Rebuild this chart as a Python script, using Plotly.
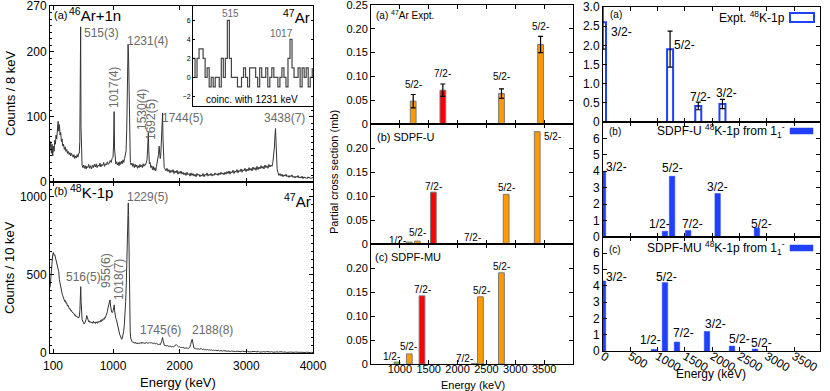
import plotly.graph_objects as go

# ---------------- DATA ----------------
# (a) 46Ar+1n spectrum: (energy keV, counts / 8 keV)
spec_a = [(56, 48), (66, 62), (76, 44), (86, 58), (96, 40), (106, 55), (116, 47), (126, 64), (136, 58),
          (146, 72), (156, 66), (166, 84), (176, 93), (186, 78), (196, 88), (206, 72), (216, 76), (226, 62),
          (236, 66), (246, 55), (258, 58), (270, 50), (282, 54), (294, 47), (306, 50), (318, 44), (330, 47),
          (342, 42), (354, 45), (366, 40), (378, 44), (390, 41), (402, 38), (414, 42), (426, 36), (438, 40),
          (450, 37), (462, 42), (474, 38), (486, 44), (494, 44), (502, 62), (508, 120), (515, 238), (520, 85),
          (526, 32), (536, 26), (548, 22), (560, 26), (572, 21), (584, 25), (596, 20), (608, 24), (622, 22),
          (636, 27), (650, 21), (664, 25), (678, 20), (692, 26), (706, 22), (720, 27), (734, 23), (748, 28),
          (762, 22), (776, 26), (790, 24), (804, 29), (818, 23), (832, 27), (846, 25), (860, 30), (874, 24),
          (888, 28), (902, 26), (916, 31), (930, 27), (944, 29), (958, 33), (972, 30), (986, 36), (1000, 38),
          (1008, 55), (1017, 108), (1023, 52), (1030, 32), (1042, 28), (1054, 31), (1066, 26), (1078, 30),
          (1090, 25), (1102, 31), (1114, 27), (1126, 32), (1138, 28), (1150, 34), (1162, 30), (1174, 36),
          (1186, 42), (1196, 48), (1206, 80), (1216, 150), (1226, 211), (1234, 190), (1242, 110), (1250, 50),
          (1260, 30), (1272, 26), (1284, 29), (1296, 24), (1308, 28), (1320, 22), (1332, 27), (1344, 23),
          (1356, 26), (1368, 21), (1380, 25), (1392, 22), (1404, 27), (1416, 23), (1428, 26), (1440, 22),
          (1452, 28), (1464, 24), (1476, 27), (1488, 26), (1500, 30), (1510, 34), (1520, 52), (1530, 76),
          (1537, 48), (1545, 28), (1556, 30), (1568, 22), (1580, 25), (1592, 19), (1604, 24), (1616, 18),
          (1628, 22), (1640, 17), (1652, 24), (1662, 30), (1672, 34), (1682, 42), (1692, 55), (1700, 42),
          (1708, 36), (1716, 40), (1726, 62), (1736, 95), (1744, 106), (1750, 66), (1758, 32), (1768, 22),
          (1780, 20), (1795, 17), (1810, 21), (1825, 16), (1840, 19), (1855, 14), (1870, 18), (1885, 15),
          (1900, 19), (1915, 13), (1930, 17), (1945, 14), (1960, 18), (1975, 12), (1990, 16), (2005, 13),
          (2020, 17), (2035, 12), (2050, 15), (2065, 11), (2080, 14), (2095, 10), (2110, 15), (2125, 11),
          (2140, 13), (2155, 9), (2170, 14), (2185, 10), (2200, 13), (2215, 9), (2230, 12), (2245, 8),
          (2260, 13), (2275, 10), (2290, 12), (2305, 8), (2320, 11), (2335, 9), (2350, 13), (2365, 8),
          (2380, 12), (2395, 10), (2410, 14), (2425, 9), (2440, 12), (2455, 10), (2470, 13), (2485, 9),
          (2500, 12), (2515, 10), (2530, 14), (2545, 11), (2560, 13), (2575, 10), (2590, 14), (2605, 11),
          (2620, 15), (2635, 12), (2650, 14), (2665, 11), (2680, 15), (2695, 12), (2710, 16), (2725, 13),
          (2740, 17), (2755, 12), (2770, 16), (2785, 14), (2800, 18), (2815, 13), (2830, 17), (2845, 15),
          (2860, 19), (2875, 14), (2890, 18), (2905, 16), (2920, 20), (2935, 15), (2950, 19), (2965, 17),
          (2980, 21), (2995, 16), (3010, 20), (3025, 17), (3040, 22), (3055, 18), (3070, 21), (3085, 17),
          (3100, 23), (3115, 19), (3130, 22), (3145, 18), (3160, 24), (3175, 19), (3190, 23), (3205, 20),
          (3220, 25), (3235, 21), (3250, 24), (3265, 20), (3280, 26), (3295, 22), (3310, 25), (3325, 21),
          (3340, 27), (3355, 23), (3370, 26), (3385, 24), (3398, 30), (3410, 38), (3420, 52), (3430, 72),
          (3438, 82), (3446, 60), (3454, 35), (3462, 20), (3475, 14), (3490, 10), (3505, 13), (3520, 9),
          (3535, 12), (3550, 8), (3565, 11), (3580, 9), (3595, 12), (3610, 8), (3625, 10), (3640, 7),
          (3655, 10), (3670, 8), (3685, 11), (3700, 7), (3715, 9), (3730, 6), (3745, 9), (3760, 7),
          (3775, 10), (3790, 6), (3805, 8), (3820, 6), (3835, 9), (3850, 5), (3865, 8), (3880, 6),
          (3895, 7), (3910, 5), (3925, 8), (3940, 6), (3955, 7), (3970, 5), (3985, 7), (4000, 6)]

# (b) 48K-1p spectrum: (energy keV, counts / 10 keV)
spec_b = [(56, 420), (66, 470), (76, 560), (86, 610), (96, 630), (106, 644), (116, 625), (126, 630),
          (136, 610), (146, 600), (156, 585), (166, 560), (176, 540), (186, 520), (196, 470), (206, 440),
          (216, 420), (226, 405), (236, 380), (246, 368), (256, 350), (266, 352), (276, 330), (286, 336),
          (296, 318), (306, 322), (316, 300), (326, 305), (336, 290), (346, 282), (356, 285), (366, 270),
          (376, 272), (386, 262), (396, 258), (406, 250), (416, 252), (426, 240), (436, 244), (446, 232),
          (456, 236), (466, 228), (476, 232), (486, 225), (496, 235), (504, 280), (510, 360), (516, 425),
          (522, 330), (528, 240), (536, 215), (546, 205), (556, 195), (566, 186), (576, 190), (586, 200),
          (596, 215), (606, 240), (616, 225), (626, 208), (636, 200), (646, 206), (656, 195), (666, 200),
          (676, 192), (686, 198), (696, 190), (706, 204), (716, 193), (726, 198), (736, 188), (746, 200),
          (756, 194), (766, 190), (776, 202), (786, 196), (796, 205), (806, 198), (816, 210), (826, 202),
          (836, 215), (846, 208), (856, 220), (866, 215), (876, 228), (886, 225), (896, 240), (906, 250),
          (916, 265), (926, 290), (936, 315), (946, 335), (955, 340), (964, 300), (972, 270), (980, 262),
          (988, 258), (996, 262), (1004, 275), (1010, 295), (1018, 308), (1025, 270), (1032, 240),
          (1040, 225), (1050, 215), (1060, 200), (1070, 180), (1080, 160), (1090, 140), (1100, 120),
          (1110, 105), (1120, 92), (1130, 88), (1140, 96), (1150, 112), (1160, 140), (1170, 180),
          (1180, 240), (1190, 330), (1200, 450), (1210, 620), (1218, 800), (1224, 920), (1229, 961),
          (1234, 880), (1240, 620), (1246, 380), (1252, 220), (1258, 140), (1266, 95), (1276, 78),
          (1288, 72), (1300, 66), (1312, 70), (1324, 62), (1336, 68), (1348, 60), (1360, 66), (1372, 58),
          (1384, 64), (1396, 60), (1408, 67), (1420, 61), (1432, 70), (1444, 63), (1456, 66), (1468, 60),
          (1480, 67), (1492, 62), (1504, 68), (1516, 63), (1528, 66), (1540, 62), (1552, 68), (1564, 64),
          (1576, 66), (1588, 62), (1600, 65), (1612, 60), (1624, 64), (1636, 58), (1648, 62), (1660, 56),
          (1672, 58), (1684, 54), (1696, 56), (1708, 52), (1720, 60), (1730, 75), (1738, 92), (1745, 99),
          (1752, 80), (1760, 58), (1770, 50), (1782, 46), (1794, 50), (1806, 44), (1818, 48), (1830, 42),
          (1842, 46), (1854, 40), (1866, 44), (1878, 40), (1890, 42), (1902, 38), (1914, 42), (1926, 45),
          (1938, 50), (1950, 54), (1962, 48), (1974, 42), (1986, 38), (1998, 40), (2010, 35), (2022, 38),
          (2034, 33), (2046, 36), (2058, 32), (2070, 34), (2082, 30), (2094, 33), (2106, 29), (2118, 31),
          (2130, 28), (2142, 32), (2154, 38), (2164, 55), (2172, 72), (2180, 84), (2188, 88), (2196, 70),
          (2204, 45), (2214, 32), (2226, 28), (2238, 30), (2250, 26), (2262, 28), (2274, 24), (2286, 27),
          (2298, 23), (2310, 26), (2322, 30), (2334, 24), (2346, 22), (2360, 25), (2375, 20), (2390, 23),
          (2405, 19), (2420, 22), (2435, 18), (2450, 21), (2465, 17), (2480, 20), (2495, 16), (2510, 19),
          (2525, 15), (2540, 18), (2560, 14), (2580, 17), (2600, 13), (2620, 16), (2640, 12), (2660, 15),
          (2680, 12), (2700, 14), (2720, 11), (2740, 13), (2760, 10), (2780, 13), (2800, 10), (2820, 12),
          (2840, 9), (2860, 12), (2880, 9), (2900, 11), (2920, 8), (2940, 11), (2960, 8), (2980, 10),
          (3000, 8), (3020, 11), (3040, 7), (3060, 10), (3080, 8), (3100, 10), (3120, 7), (3140, 9),
          (3160, 7), (3180, 10), (3200, 6), (3220, 9), (3240, 7), (3260, 9), (3280, 6), (3300, 9),
          (3320, 6), (3340, 8), (3360, 6), (3380, 9), (3400, 5), (3420, 8), (3440, 6), (3460, 8),
          (3480, 5), (3500, 8), (3520, 5), (3540, 7), (3560, 5), (3580, 7), (3600, 4), (3620, 7),
          (3640, 5), (3660, 6), (3680, 4), (3700, 6), (3720, 4), (3740, 6), (3760, 4), (3780, 6),
          (3800, 4), (3820, 5), (3840, 3), (3860, 5), (3880, 3), (3900, 5), (3920, 3), (3940, 5),
          (3960, 3), (3980, 4), (4000, 3)]

# inset: coincidence with 1231 keV
inset_energy = [240, 256, 272, 288, 304, 320, 336, 352, 368, 384, 400, 416, 432, 448, 464, 480, 496, 512,
                528, 544, 560, 576, 592, 608, 624, 640, 656, 672, 688, 704, 720, 736, 752, 768, 784, 800,
                816, 832, 848, 864, 880, 896, 912, 928, 944, 960, 976, 992, 1008, 1024, 1040, 1056, 1072,
                1088, 1104, 1120, 1136, 1152, 1168, 1184]
inset_counts = [2, 0, 2, 3, 3, 2, 0, 1, -1, 0, -1, 0, 0, -1, 2, 0, 2, 6, 2, 0, 0, 0, -1, -1, 0, 1, 0, -1,
                1, 1, 1, 0, -1, 1, 0, 0, 1, -1, 0, 1, 0, 0, -1, 0, 1, 0, -1, 2, 4, 1, 0, 0, 1, -1, 1, 0,
                1, -1, 0, 1]

# middle: partial cross sections (mb)
mid_expt_E = [1231, 1745, 2761, 3438]
mid_expt_sigma = [0.048, 0.071, 0.064, 0.167]
mid_expt_err = [0.014, 0.013, 0.010, 0.017]
mid_expt_label = ['5/2-', '7/2-', '5/2-', '5/2-']
mid_expt_kind = ['5/2', '7/2', '5/2', '5/2']

mid_u_E = [1163, 1302, 1580, 2222, 2842, 3380]
mid_u_sigma = [0.004, 0.006, 0.108, 0.001, 0.1035, 0.234]
mid_u_label = ['1/2-', '5/2-', '7/2-', '7/2-', '5/2-', '5/2-']
mid_u_kind = ['1/2', '5/2', '7/2', '7/2', '5/2', '5/2']

mid_mu_E = [950, 1163, 1384, 2290, 2396, 2760]
mid_mu_sigma = [0.004, 0.021, 0.142, 0.001, 0.140, 0.190]
mid_mu_label = ['1/2-', '5/2-', '7/2-', '7/2-', '5/2-', '5/2-']
mid_mu_kind = ['1/2', '5/2', '7/2', '7/2', '5/2', '5/2']

# right: spectroscopic strengths 48K-1p
r_expt_E = [0, 1229, 1745, 2188]
r_expt_val = [2.6, 1.9, 0.42, 0.47]
r_expt_err = [0.7, 0.47, 0.1, 0.12]
r_expt_label = ['3/2-', '5/2-', '7/2-', '3/2-']

r_u_E = [0, 1135, 1265, 1560, 2100, 2820]
r_u_val = [4.0, 0.35, 3.7, 0.4, 2.65, 0.55]
r_u_label = ['3/2-', '1/2-', '5/2-', '7/2-', '3/2-', '5/2-']

r_mu_E = [0, 934, 1135, 1355, 1905, 2363, 2784]
r_mu_val = [4.3, 0.1, 4.2, 0.55, 1.2, 0.3, 0.12]
r_mu_label = ['3/2-', '1/2-', '5/2-', '7/2-', '3/2-', '5/2-', '5/2-']

# ---------------- STYLE ----------------
W, H = 830, 391
FONT = 'Liberation Sans, Arial, sans-serif'
KIND_COLOR = {'1/2': '#66dd00', '5/2': '#ff9900', '7/2': '#ff0000'}
BLUE = '#2040ff'
GRAY_TXT = '#6a6a6a'

# label offsets (pixels: dx right, dy up from bar top)
mid_expt_dx = [0, 0, 0, 0];            mid_expt_dy = [10, 11, 12, 10]
mid_u_dx = [-12, 0, 0, 2, 0, 15];      mid_u_dy = [2, 9, 6, 6, 7, -5]
mid_mu_dx = [-5, -1, 0, -10, 1, 0];    mid_mu_dy = [6, 7, 6, 5, 6, 6]
r_expt_dx = [18, 14, 2, 4];            r_expt_dy = [-10, 4, 9, 11]
r_u_dx = [13, -5, 0, 4, 0, 5];         r_u_dy = [4, 7, 8, 6, 6, 4]
r_mu_dx = [13, -3, 2, 7, 8, 7, 7];     r_mu_dy = [4, 9, 6, 9, 7, 7, 6]

# axes boxes in pixels (left, right, top, bottom)
boxes = {
    1: (50, 313, 6, 182),
    2: (50, 313, 182, 353),
    3: (193, 313, 6, 106),
    4: (371, 573, 5, 124),
    5: (371, 573, 124, 244),
    6: (371, 573, 244, 364),
    7: (603, 820, 7, 122),
    8: (603, 820, 122, 237),
    9: (603, 820, 237, 351),
}


def px(x):
    return x / W


def py(y):
    return 1 - y / H


def ref(i):
    return ('x' if i == 1 else f'x{i}'), ('y' if i == 1 else f'y{i}')


fig = go.Figure()
annotations = []
shapes = []

# ---- spectra ----
xa, ya = ref(1)
fig.add_trace(go.Scatter(x=[p[0] for p in spec_a], y=[p[1] for p in spec_a], mode='lines',
                         line=dict(color='#333333', width=1), xaxis=xa, yaxis=ya, hoverinfo='skip'))
xb, yb = ref(2)
fig.add_trace(go.Scatter(x=[p[0] for p in spec_b], y=[p[1] for p in spec_b], mode='lines',
                         line=dict(color='#333333', width=1), xaxis=xb, yaxis=yb, hoverinfo='skip'))
xi, yi = ref(3)
fig.add_trace(go.Scatter(x=inset_energy, y=inset_counts, mode='lines', line_shape='hv',
                         line=dict(color='#444444', width=1.2), xaxis=xi, yaxis=yi, hoverinfo='skip'))


def add_bars(i, E, vals, colors, width, line_color, line_w, err=None):
    xr, yr = ref(i)
    kw = {}
    if err is not None:
        kw['error_y'] = dict(type='data', array=err, color='black', thickness=1.2, width=2.5)
    fig.add_trace(go.Bar(x=E, y=vals, width=width, marker=dict(color=colors, line=dict(color=line_color, width=line_w)),
                         xaxis=xr, yaxis=yr, hoverinfo='skip', **kw))


def add_labels(i, E, tops, labels, dx, dy, size):
    xr, yr = ref(i)
    for e, t, l, a, b in zip(E, tops, labels, dx, dy):
        annotations.append(dict(x=e, y=t, xref=xr, yref=yr, text=l, showarrow=False, xanchor='center',
                                yanchor='middle', xshift=a, yshift=b, font=dict(size=size, color='black', family=FONT)))


add_bars(4, mid_expt_E, mid_expt_sigma, [KIND_COLOR[k] for k in mid_expt_kind], 100, '#7a7a7a', 1, mid_expt_err)
add_bars(5, mid_u_E, mid_u_sigma, [KIND_COLOR[k] for k in mid_u_kind], 100, '#7a7a7a', 1)
add_bars(6, mid_mu_E, mid_mu_sigma, [KIND_COLOR[k] for k in mid_mu_kind], 100, '#7a7a7a', 1)
add_labels(4, mid_expt_E, [v + e for v, e in zip(mid_expt_sigma, mid_expt_err)], mid_expt_label, mid_expt_dx, mid_expt_dy, 10)
add_labels(5, mid_u_E, mid_u_sigma, mid_u_label, mid_u_dx, mid_u_dy, 10)
add_labels(6, mid_mu_E, mid_mu_sigma, mid_mu_label, mid_mu_dx, mid_mu_dy, 10)

add_bars(7, r_expt_E, r_expt_val, 'white', 110, BLUE, 2, r_expt_err)
add_bars(8, r_u_E, r_u_val, BLUE, 100, BLUE, 0.5)
add_bars(9, r_mu_E, r_mu_val, BLUE, 100, BLUE, 0.5)
add_labels(7, r_expt_E, r_expt_val, r_expt_label, r_expt_dx, r_expt_dy, 12)
add_labels(8, r_u_E, r_u_val, r_u_label, r_u_dx, r_u_dy, 12)
add_labels(9, r_mu_E, r_mu_val, r_mu_label, r_mu_dx, r_mu_dy, 12)

# ---- axes ----
layout = dict(width=W, height=H, margin=dict(l=0, r=0, t=0, b=0), showlegend=False,
              paper_bgcolor='white', plot_bgcolor='white', template='none',
              font=dict(family=FONT, color='black'), bargap=0)


def axis_common(size):
    return dict(showline=True, linecolor='black', linewidth=1, mirror='ticks', ticks='inside', ticklen=4,
                tickcolor='black', showgrid=False, zeroline=False, ticklabeloverflow='allow',
                tickfont=dict(size=size, color='black', family=FONT))


spec = {
    1: dict(x=dict(range=[55, 4000], tickvals=[100, 1000, 2000, 3000, 4000], showticklabels=False),
            y=dict(range=[0, 270], tickvals=[0, 100, 200, 270],
                   minor=dict(ticks='inside', ticklen=2, dtick=10, tickcolor='black', showgrid=False)), size=12),
    2: dict(x=dict(range=[55, 4000], tickvals=[100, 1000, 2000, 3000, 4000], ticklabelstandoff=2),
            y=dict(range=[0, 1095], tickvals=[0, 500, 1000],
                   minor=dict(ticks='inside', ticklen=2, dtick=50, tickcolor='black', showgrid=False)), size=12),
    3: dict(x=dict(range=[240, 1190], ticks='', showticklabels=False),
            y=dict(range=[-3, 7.5], tickvals=[-2, 0, 2, 4, 6], ticklen=2), size=7),
    4: dict(x=dict(range=[500, 4000], tickvals=[1000, 1500, 2000, 2500, 3000, 3500], showticklabels=False),
            y=dict(range=[0, 0.25], tickvals=[0, 0.05, 0.1, 0.15, 0.2, 0.25],
                   ticktext=['0', '0.05', '0.10', '0.15', '0.20', '0.25']), size=11),
    5: dict(x=dict(range=[500, 4000], tickvals=[1000, 1500, 2000, 2500, 3000, 3500], showticklabels=False),
            y=dict(range=[0, 0.25], tickvals=[0, 0.05, 0.1, 0.15, 0.2],
                   ticktext=['0', '0.05', '0.10', '0.15', '0.20']), size=11),
    6: dict(x=dict(range=[500, 4000], tickvals=[1000, 1500, 2000, 2500, 3000, 3500], ticklabelstandoff=-5),
            y=dict(range=[0, 0.25], tickvals=[0, 0.05, 0.1, 0.15, 0.2],
                   ticktext=['0', '0.05', '0.10', '0.15', '0.20']), size=11),
    7: dict(x=dict(range=[0, 3975], tickvals=[0, 500, 1000, 1500, 2000, 2500, 3000, 3500], showticklabels=False),
            y=dict(range=[0, 3], tickvals=[0, 0.5, 1, 1.5, 2, 2.5, 3],
                   ticktext=['0', '0.5', '1.0', '1.5', '2.0', '2.5', '3.0']), size=12),
    8: dict(x=dict(range=[0, 3975], tickvals=[0, 500, 1000, 1500, 2000, 2500, 3000, 3500], showticklabels=False),
            y=dict(range=[0, 7], tickvals=[0, 1, 2, 3, 4, 5, 6]), size=12),
    9: dict(x=dict(range=[0, 3975], tickvals=[0, 500, 1000, 1500, 2000, 2500, 3000, 3500], ticklabelstandoff=-7),
            y=dict(range=[0, 7], tickvals=[0, 1, 2, 3, 4, 5, 6]), size=12),
}

for i, (l, r, t, b) in boxes.items():
    xk = 'xaxis' if i == 1 else f'xaxis{i}'
    yk = 'yaxis' if i == 1 else f'yaxis{i}'
    xr, yr = ref(i)
    ax = axis_common(spec[i]['size'])
    ax.update(domain=[px(l), px(r)], anchor=yr)
    ax.update(spec[i]['x'])
    ay = axis_common(spec[i]['size'])
    ay.update(domain=[py(b), py(t)], anchor=xr)
    ay.update(spec[i]['y'])
    layout[xk] = ax
    layout[yk] = ay


def txt(x, y, s, size, color='black', anchor='center', angle=0):
    annotations.append(dict(x=px(x), y=py(y), xref='paper', yref='paper', text=s, showarrow=False,
                            xanchor=anchor, yanchor='middle', textangle=angle,
                            font=dict(size=size, color=color, family=FONT)))


# left column texts
txt(52, 15, '(a)', 11, anchor='left')
txt(67, 15, '<sup>46</sup>Ar+1n', 15, anchor='left')
txt(101, 33, '515(3)', 12, GRAY_TXT)
txt(147, 41, '1231(4)', 12, GRAY_TXT)
txt(114, 88, '1017(4)', 12, GRAY_TXT, angle=-90)
txt(142, 110, '1530(4)', 12, GRAY_TXT, angle=-90)
txt(151, 120, '1692(5)', 12, GRAY_TXT, angle=-90)
txt(182, 118, '1744(5)', 12, GRAY_TXT)
txt(284, 118, '3438(7)', 12, GRAY_TXT)
txt(230, 14, '515', 10, GRAY_TXT)
txt(281, 33, '1017', 10, GRAY_TXT)
txt(296, 16, '<sup>47</sup>Ar', 15)
txt(252, 99, 'coinc. with 1231 keV', 10)

txt(52, 191, '(b)', 11, anchor='left')
txt(68, 191, '<sup>48</sup>K-1p', 15, anchor='left')
txt(147, 197, '1229(5)', 12, GRAY_TXT)
txt(83, 277, '516(5)', 12, GRAY_TXT)
txt(106, 271, '955(6)', 12, GRAY_TXT, angle=-90)
txt(119, 280, '1018(7)', 12, GRAY_TXT, angle=-90)
txt(160, 330, '1745(6)', 12, GRAY_TXT)
txt(212, 330, '2188(8)', 12, GRAY_TXT)
txt(297, 200, '<sup>47</sup>Ar', 15)

txt(10, 93, 'Counts / 8 keV', 13, angle=-90)
txt(9, 268, 'Counts / 10 keV', 13, angle=-90)
txt(178, 382, 'Energy (keV)', 13)

# middle column texts
txt(374, 15, '(a) <sup>47</sup>Ar Expt.', 10, anchor='left')
txt(375, 137, '(b) SDPF-U', 11, anchor='left')
txt(373, 257, '(c) SDPF-MU', 11, anchor='left')
txt(334, 172, 'Partial cross section (mb)', 11, angle=-90)
txt(473, 385, 'Energy (keV)', 11)

# right column texts
txt(608, 15, '(a)', 10, anchor='left')
txt(607, 131, '(b)', 10, anchor='left')
txt(607, 249, '(c)', 10, anchor='left')
txt(787, 17, 'Expt. <sup>48</sup>K-1p', 12, anchor='right')
txt(787, 131, 'SDPF-U <sup>48</sup>K-1p from 1<sub>1</sub><sup>-</sup>', 12, anchor='right')
txt(787, 248, 'SDPF-MU <sup>48</sup>K-1p from 1<sub>1</sub><sup>-</sup>', 12, anchor='right')
txt(711, 374, 'Energy (keV)', 12)

shapes.append(dict(type='rect', xref='paper', yref='paper', x0=px(790), x1=px(814), y0=py(22), y1=py(13),
                   line=dict(color=BLUE, width=2), fillcolor='white'))
shapes.append(dict(type='rect', xref='paper', yref='paper', x0=px(790), x1=px(813), y0=py(134), y1=py(128),
                   line=dict(color=BLUE, width=0.5), fillcolor=BLUE))
shapes.append(dict(type='rect', xref='paper', yref='paper', x0=px(790), x1=px(813), y0=py(251), y1=py(245),
                   line=dict(color=BLUE, width=0.5), fillcolor=BLUE))

layout['annotations'] = annotations
layout['shapes'] = shapes
fig.update_layout(**layout)
fig.write_html('out.html', config={'displayModeBar': False, 'staticPlot': True},
               post_script="document.body.style.margin='0';document.body.style.overflow='hidden';")
